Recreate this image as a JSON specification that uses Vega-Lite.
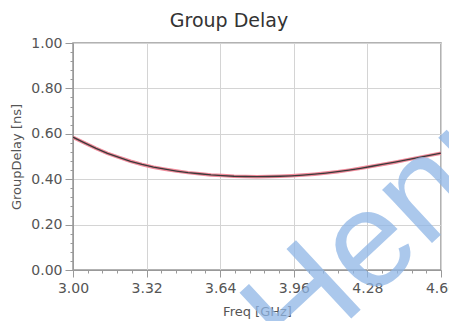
{
  "$schema": "https://vega.github.io/schema/vega-lite/v6.json",
  "width": 368,
  "height": 227,
  "autosize": {"type": "none"},
  "padding": {"left": 73, "top": 43, "right": 8, "bottom": 51},
  "background": "white",
  "title": {"text": "Group Delay", "font": "DejaVu Sans", "fontSize": 19, "fontWeight": "normal", "color": "#333333", "offset": 5, "dx": -28, "frame": "group", "anchor": "middle"},
  "config": {
    "view": {"stroke": "#999999", "strokeWidth": 1.5},
    "axis": {"labelFont": "DejaVu Sans", "titleFont": "DejaVu Sans", "labelColor": "#555555", "titleColor": "#555555", "labelFontSize": 14, "titleFontSize": 13, "titleFontWeight": "normal", "domainColor": "#999999", "tickColor": "#999999", "gridColor": "#d4d4d4", "labelFlush": false, "labelOverlap": false}
  },
  "resolve": {"axis": {"x": "independent", "y": "independent"}},
  "datasets": {
    "curve": [
      {"f": 3.00, "d": 0.585}, {"f": 3.05, "d": 0.560}, {"f": 3.10, "d": 0.536}, {"f": 3.15, "d": 0.514},
      {"f": 3.20, "d": 0.496}, {"f": 3.25, "d": 0.479}, {"f": 3.30, "d": 0.465}, {"f": 3.35, "d": 0.453},
      {"f": 3.40, "d": 0.444}, {"f": 3.45, "d": 0.436}, {"f": 3.50, "d": 0.429}, {"f": 3.55, "d": 0.424},
      {"f": 3.60, "d": 0.419}, {"f": 3.65, "d": 0.416}, {"f": 3.70, "d": 0.413}, {"f": 3.75, "d": 0.412},
      {"f": 3.80, "d": 0.411}, {"f": 3.85, "d": 0.412}, {"f": 3.90, "d": 0.413}, {"f": 3.95, "d": 0.415},
      {"f": 4.00, "d": 0.418}, {"f": 4.05, "d": 0.422}, {"f": 4.10, "d": 0.427}, {"f": 4.15, "d": 0.433},
      {"f": 4.20, "d": 0.440}, {"f": 4.25, "d": 0.448}, {"f": 4.30, "d": 0.457}, {"f": 4.35, "d": 0.466},
      {"f": 4.40, "d": 0.475}, {"f": 4.45, "d": 0.485}, {"f": 4.50, "d": 0.495}, {"f": 4.55, "d": 0.505},
      {"f": 4.60, "d": 0.515}
    ],
    "mark": [{"f": 3.97, "d": -0.44, "t": "Henry"}]
  },
  "layer": [
    {
      "data": {"name": "curve"},
      "mark": {"type": "line", "color": "#f08a9a", "strokeWidth": 3.5, "clip": true},
      "encoding": {
        "x": {"field": "f", "type": "quantitative", "scale": {"domain": [3.0, 4.6], "nice": false, "zero": false},
          "axis": {"title": "Freq [GHz]", "orient": "bottom", "values": [3.0, 3.32, 3.64, 3.96, 4.28, 4.6], "format": ".2f", "tickSize": 7, "labelPadding": 4, "titlePadding": 10, "grid": true}},
        "y": {"field": "d", "type": "quantitative", "scale": {"domain": [0, 1], "nice": false},
          "axis": {"title": "GroupDelay [ns]", "orient": "left", "values": [0, 0.2, 0.4, 0.6, 0.8, 1.0], "format": ".2f", "tickSize": 8, "labelPadding": 3, "titlePadding": 7, "grid": true}}
      }
    },
    {
      "data": {"name": "curve"},
      "mark": {"type": "line", "color": "#3a3a3a", "strokeWidth": 1.3, "clip": true},
      "encoding": {
        "x": {"field": "f", "type": "quantitative",
          "axis": {"title": null, "orient": "bottom", "labels": false, "grid": false, "domain": false, "tickSize": 3,
            "values": [3.064, 3.128, 3.192, 3.256, 3.384, 3.448, 3.512, 3.576, 3.704, 3.768, 3.832, 3.896, 4.024, 4.088, 4.152, 4.216, 4.344, 4.408, 4.472, 4.536]}},
        "y": {"field": "d", "type": "quantitative",
          "axis": {"title": null, "orient": "left", "labels": false, "grid": false, "domain": false, "tickSize": 3,
            "values": [0.04, 0.08, 0.12, 0.16, 0.24, 0.28, 0.32, 0.36, 0.44, 0.48, 0.52, 0.56, 0.64, 0.68, 0.72, 0.76, 0.84, 0.88, 0.92, 0.96]}}
      }
    },
    {
      "data": {"name": "mark"},
      "mark": {"type": "text", "font": "Liberation Sans", "fontSize": 138, "angle": -43, "align": "left", "baseline": "alphabetic", "color": "#8fb6e6", "opacity": 0.75},
      "encoding": {
        "x": {"field": "f", "type": "quantitative", "axis": null},
        "y": {"field": "d", "type": "quantitative", "axis": null},
        "text": {"field": "t"}
      }
    }
  ]
}
